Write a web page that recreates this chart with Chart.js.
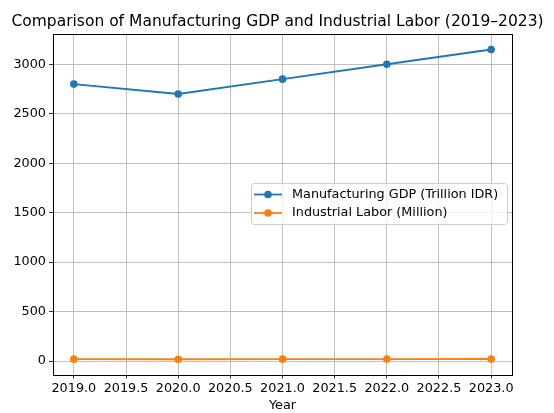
<!DOCTYPE html>
<html>
<head>
<meta charset="utf-8">
<script src="https://cdn.jsdelivr.net/npm/chart.js@4/dist/chart.umd.min.js"></script>
<style>
html,body{margin:0;padding:0;background:#fff;}
#wrap{width:554px;height:413px;position:relative;}
</style>
</head>
<body>
<div id="wrap"><canvas id="c" width="554" height="413"></canvas></div>
<script>
const years = [2019, 2020, 2021, 2022, 2023];
const gdpValues = [2800, 2700, 2850, 3000, 3150];
const laborValues = [18.9, 17.5, 18.6, 19.4, 20.1];
const yTickValues = [0, 500, 1000, 1500, 2000, 2500, 3000];
const seriesLabels = ['Manufacturing GDP (Trillion IDR)', 'Industrial Labor (Million)'];
const titleText = 'Comparison of Manufacturing GDP and Industrial Labor (2019–2023)';
const xAxisTitle = 'Year';

const FONT = "'DejaVu Sans', sans-serif";
const BLUE = '#1f77b4', ORANGE = '#ff7f0e';

const frameAndLegend = {
  id: 'frameAndLegend',
  afterDraw(chart) {
    const ctx = chart.ctx, a = chart.chartArea;
    ctx.save();
    // frame
    ctx.strokeStyle = '#000'; ctx.lineWidth = 1;
    ctx.strokeRect(Math.round(a.left) + 0.5, Math.round(a.top) + 0.5,
      Math.round(a.right - a.left), Math.round(a.bottom - a.top));
    // title
    ctx.fillStyle = '#000';
    ctx.font = '15.5px ' + FONT;
    ctx.textAlign = 'center'; ctx.textBaseline = 'alphabetic';
    ctx.fillText(titleText, 277.5, 26);
    // legend
    const bx = 251.5, by = 183.5, bw = 256, bh = 41, r = 3;
    ctx.beginPath();
    ctx.moveTo(bx + r, by); ctx.lineTo(bx + bw - r, by); ctx.arcTo(bx + bw, by, bx + bw, by + r, r);
    ctx.lineTo(bx + bw, by + bh - r); ctx.arcTo(bx + bw, by + bh, bx + bw - r, by + bh, r);
    ctx.lineTo(bx + r, by + bh); ctx.arcTo(bx, by + bh, bx, by + bh - r, r);
    ctx.lineTo(bx, by + r); ctx.arcTo(bx, by, bx + r, by, r); ctx.closePath();
    ctx.fillStyle = 'rgba(255,255,255,0.8)'; ctx.fill();
    ctx.strokeStyle = '#cccccc'; ctx.lineWidth = 1; ctx.stroke();
    chart.data.datasets.forEach((ds, i) => {
      const y = 194.5 + i * 18.5;
      ctx.strokeStyle = ds.borderColor; ctx.lineWidth = 1.8;
      ctx.beginPath(); ctx.moveTo(254, y); ctx.lineTo(282, y); ctx.stroke();
      ctx.fillStyle = ds.backgroundColor;
      ctx.beginPath(); ctx.arc(268, y, 3.8, 0, Math.PI * 2); ctx.fill();
      ctx.fillStyle = '#000'; ctx.font = '12.8px ' + FONT;
      ctx.textAlign = 'left'; ctx.textBaseline = 'middle';
      ctx.fillText(ds.label, 292, y);
    });
    ctx.restore();
  }
};

new Chart(document.getElementById('c'), {
  type: 'line',
  data: {
    datasets: [
      { label: seriesLabels[0], data: years.map((x, i) => ({x, y: gdpValues[i]})),
        borderColor: BLUE, backgroundColor: BLUE, borderWidth: 1.9,
        pointRadius: 3.8, pointBorderWidth: 0, pointHoverRadius: 3.8 },
      { label: seriesLabels[1], data: years.map((x, i) => ({x, y: laborValues[i]})),
        borderColor: ORANGE, backgroundColor: ORANGE, borderWidth: 1.9,
        pointRadius: 3.8, pointBorderWidth: 0, pointHoverRadius: 3.8 }
    ]
  },
  options: {
    responsive: false, animation: false,
    layout: { padding: { top: 34, right: 42, left: 0, bottom: 0 } },
    plugins: { legend: { display: false }, title: { display: false }, tooltip: { enabled: false } },
    scales: {
      x: {
        type: 'linear', min: 2018.8, max: 2023.2,
        afterBuildTicks(s) { const t = []; for (let v = 2019; v <= 2023.001; v += 0.5) t.push({value: v}); s.ticks = t; },
        afterFit(s) { s.height = 38.5; },
        ticks: { callback: v => Number(v).toFixed(1), color: '#000', font: { family: FONT, size: 12.8 }, padding: 2, maxRotation: 0, autoSkip: false },
        grid: { color: '#b0b0b0', lineWidth: 0.8, tickColor: '#000', tickLength: 4, drawTicks: true },
        border: { display: false },
        title: { display: true, text: xAxisTitle, color: '#000', font: { family: FONT, size: 12.8 }, padding: { top: 0, bottom: 0 } }
      },
      y: {
        type: 'linear', min: -136.5, max: 3306.5,
        afterBuildTicks(s) { s.ticks = yTickValues.map(v => ({value: v})); },
        afterFit(s) { s.width = 53; },
        ticks: { callback: v => String(v), color: '#000', font: { family: FONT, size: 12.8 }, padding: 3 },
        grid: { color: '#b0b0b0', lineWidth: 0.8, tickColor: '#000', tickLength: 4, drawTicks: true },
        border: { display: false }
      }
    }
  },
  plugins: [frameAndLegend]
});
</script>
</body>
</html>
